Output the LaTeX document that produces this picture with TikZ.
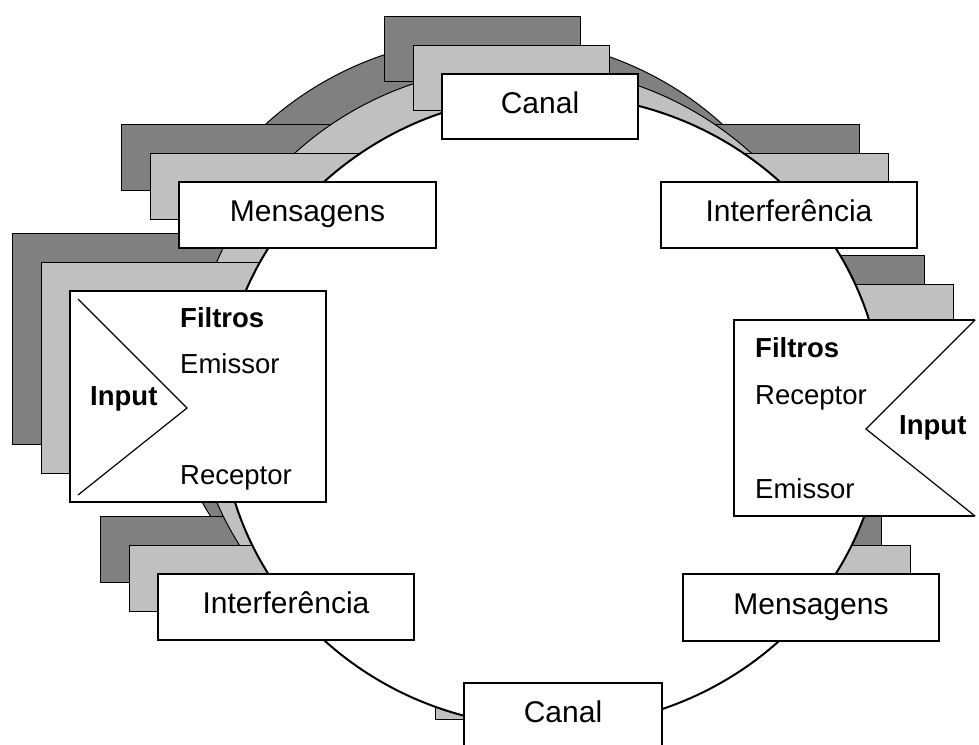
\documentclass[tikz,border=0pt]{standalone}
\usepackage{fontspec}
\setmainfont{Liberation Sans}
\definecolor{darkshade}{RGB}{128,128,128}
\definecolor{lightshade}{RGB}{192,192,192}
\newcommand\shadowlayer[3]{%
  \begin{scope}[shift={(#1,#2)}, shadowline, fill=#3]
    \filldraw (552,411) ellipse [x radius=331, y radius=316];
    \filldraw (442,74) rectangle (638,139);
    \filldraw (179,182) rectangle (436,248);
    \filldraw (661,182) rectangle (917,248);
    \filldraw (70,291) rectangle (326,502);
    \filldraw (741,313) rectangle (982,509);
    \filldraw (158,574) rectangle (414,640);
    \filldraw (683,574) rectangle (939,641);
    \filldraw (464,683) rectangle (662,748);
  \end{scope}}
\begin{document}
\begin{tikzpicture}[x=1pt, y=-1pt,
  shadowline/.style={draw=black, line width=1pt},
  tagbox/.style={draw=black, fill=white, line width=2pt, inner sep=0pt,
    font=\fontsize{30}{36}\selectfont, text height=21pt, text depth=8pt},
  filterbox/.style={fill=white, inner sep=0pt},
  filtertext/.style={anchor=base west, inner sep=0pt, font=\fontsize{27.5}{33}\selectfont},
  filterbold/.style={filtertext, font=\fontsize{27.5}{33}\selectfont\bfseries},
  chevron/.style={line width=1.2pt, line join=miter}]
\useasboundingbox (0,0) rectangle (979,744);
\clip (0,0) rectangle (979,744);

% stacked back layers
\shadowlayer{-58}{-58}{darkshade}
\shadowlayer{-29}{-29}{lightshade}

% front ring
\draw[fill=white, line width=2pt] (552,411) ellipse [x radius=331, y radius=316];

% front labels
\node[tagbox, minimum width=196pt, minimum height=65pt] (canalN) at (540,106.5) {Canal};
\node[tagbox, minimum width=257pt, minimum height=66pt] (msgW) at (307.5,215) {Mensagens};
\node[tagbox, minimum width=256pt, minimum height=66pt] (intE) at (789,215) {Interferência};
\node[tagbox, minimum width=256pt, minimum height=66pt] (intW) at (286,607) {Interferência};
\node[tagbox, minimum width=256pt, minimum height=67pt] (msgE) at (811,607.5) {Mensagens};
\node[tagbox, minimum width=198pt, minimum height=65pt] (canalS) at (563,715.5) {Canal};

% left filter block
\node[filterbox, draw=black, line width=2pt, minimum width=256pt, minimum height=211pt] (filtW) at (198,396.5) {};
\coordinate (triWa) at (78,299);
\coordinate (triWb) at (187,408);
\coordinate (triWc) at (78,495);
\draw[chevron] (triWa) -- (triWb) -- (triWc);
\node[filterbold] (filtWt) at (180,327) {Filtros};
\node[filtertext] (filtWe) at (180,373) {Emissor};
\node[filtertext] (filtWr) at (180,484) {Receptor};
\node[filterbold] (filtWi) at (90,405) {Input};

% right filter block, open on its right side
\node[filterbox, minimum width=241pt, minimum height=196pt] (filtE) at (854.5,418) {};
\draw[line width=2pt] (filtE.north east) -- (filtE.north west) -- (filtE.south west) -- (filtE.south east);
\coordinate (notchE) at (866,429);
\draw[chevron] (filtE.north east) -- (notchE) -- (filtE.south east);
\node[filterbold] (filtEt) at (755,357) {Filtros};
\node[filtertext] (filtEr) at (755,404) {Receptor};
\node[filtertext] (filtEe) at (755,498) {Emissor};
\node[filterbold] (filtEi) at (899,434) {Input};
\end{tikzpicture}
\end{document}
